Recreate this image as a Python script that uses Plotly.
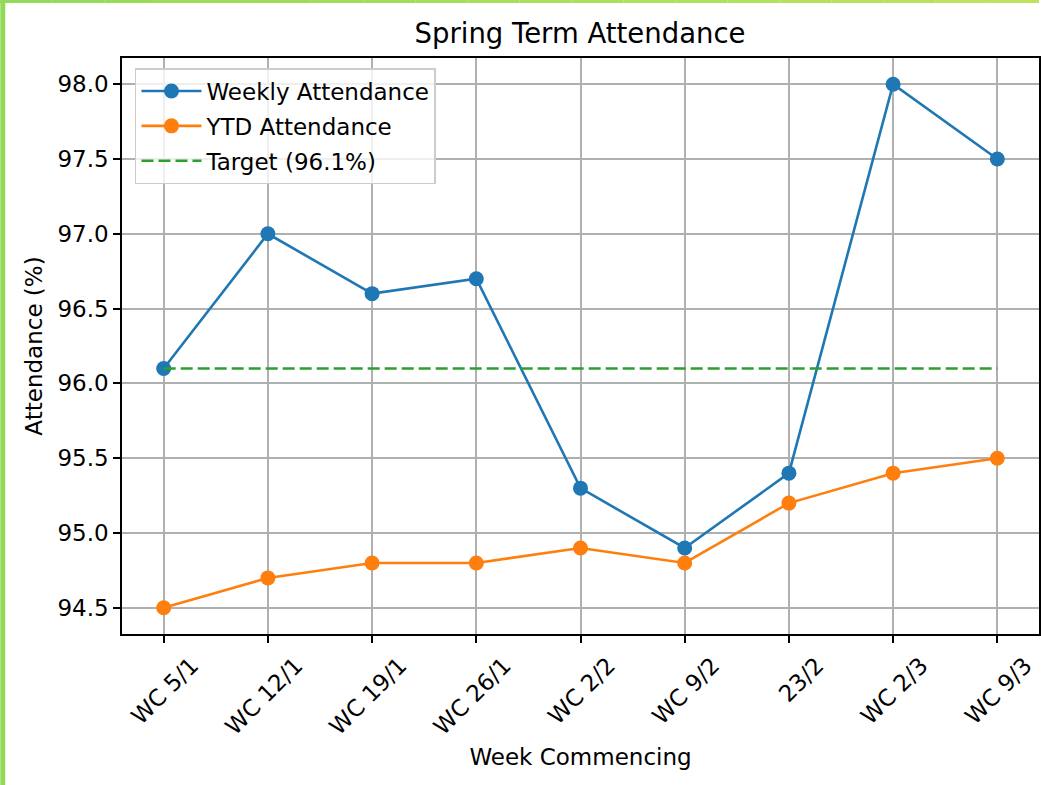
import plotly.graph_objects as go

weeks = ["WC 5/1", "WC 12/1", "WC 19/1", "WC 26/1", "WC 2/2", "WC 9/2", "23/2", "WC 2/3", "WC 9/3"]
weekly = [96.1, 97.0, 96.6, 96.7, 95.3, 94.9, 95.4, 98.0, 97.5]
ytd = [94.5, 94.7, 94.8, 94.8, 94.9, 94.8, 95.2, 95.4, 95.5]
target = 96.1
y_ticks = [94.5, 95.0, 95.5, 96.0, 96.5, 97.0, 97.5, 98.0]

W, H = 1041, 785
L, R, T, B = 122, 0, 58, 151
PW, PH = W - L - R, H - T - B

x_idx = list(range(len(weeks)))
FONT = "DejaVu Sans"
FS = 23

fig = go.Figure()
fig.add_trace(go.Scatter(x=x_idx, y=weekly, mode="lines+markers", name="Weekly Attendance",
                         line=dict(color="#1f77b4", width=2.6), marker=dict(size=15, color="#1f77b4"),
                         legendgroup="a"))
fig.add_trace(go.Scatter(x=x_idx, y=ytd, mode="lines+markers", name="YTD Attendance",
                         line=dict(color="#ff7f0e", width=2.6), marker=dict(size=15, color="#ff7f0e"),
                         legendgroup="b"))
fig.add_trace(go.Scatter(x=[x_idx[0], x_idx[-1]], y=[target, target], mode="lines",
                         name=f"Target ({target}%)",
                         line=dict(color="#2ca02c", width=2.6, dash="12px,5px"),
                         legendgroup="c"))

axis_common = dict(showline=True, mirror=True, linecolor="black", linewidth=1.6,
                   ticks="outside", ticklen=7, tickwidth=1.6, tickcolor="black",
                   showgrid=True, gridcolor="#b0b0b0", gridwidth=1.6, zeroline=False,
                   tickfont=dict(family=FONT, size=FS, color="black"))

fig.update_xaxes(range=[-0.4, 8.4], tickmode="array", tickvals=x_idx, ticktext=weeks,
                 tickangle=-45, ticklabelshift=28,
                 title=dict(text="Week Commencing", font=dict(family=FONT, size=FS, color="black"), standoff=10),
                 **axis_common)
fig.update_yaxes(range=[94.5 - 0.175, 98.0 + 0.175], tickmode="array", tickvals=y_ticks,
                 ticktext=[f"{v:.1f}" for v in y_ticks],
                 title=dict(text="Attendance (%)", font=dict(family=FONT, size=FS, color="black"), standoff=8),
                 **axis_common)

shapes = []
# green frame: left strip and top strip (gradient)
shapes.append(dict(type="rect", xref="paper", yref="paper", layer="above",
                   x0=-L / PW, x1=-(L - 5) / PW, y0=-B / PH, y1=1 + T / PH,
                   fillcolor="#93DA58", line=dict(width=0)))
c0 = (0x93, 0xDA, 0x58)
c1 = (0xBD, 0xE3, 0x5C)
n = 20
for i in range(n):
    t = i / (n - 1)
    col = "rgb(%d,%d,%d)" % tuple(round(a + (b - a) * t) for a, b in zip(c0, c1))
    xa = -L + W * i / n
    xb = -L + W * (i + 1) / n
    shapes.append(dict(type="rect", xref="paper", yref="paper", layer="above",
                       x0=xa / PW, x1=xb / PW, y0=1 + (T - 3) / PH, y1=1 + T / PH,
                       fillcolor=col, line=dict(width=0)))

fig.update_layout(
    width=W, height=H,
    margin=dict(l=L, r=R, t=T, b=B, pad=0),
    paper_bgcolor="white", plot_bgcolor="white",
    title=dict(text="Spring Term Attendance", x=(415 + 745) / 2 / W, xanchor="center",
               y=1 - 33 / H, yanchor="middle", font=dict(family=FONT, size=27.5, color="black")),
    legend=dict(x=(135 - L) / PW, y=1 - (68 - T) / PH, xanchor="left", yanchor="top",
                bgcolor="rgba(255,255,255,0.8)", bordercolor="#cccccc", borderwidth=1.5,
                font=dict(family=FONT, size=FS, color="black"), tracegroupgap=2,
                itemwidth=60),
    shapes=shapes,
    showlegend=True,
)

fig.write_html("out.html", config={"displayModeBar": False},
               post_script="document.body.style.margin='0';document.body.style.overflow='hidden';")
